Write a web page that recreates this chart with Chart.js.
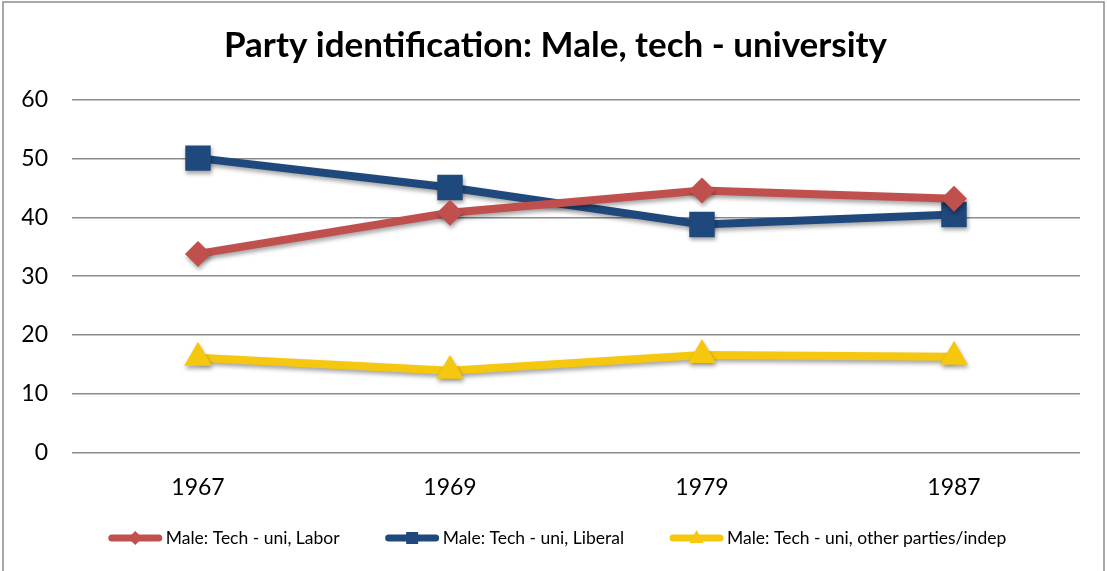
<!DOCTYPE html>
<html>
<head>
<meta charset="utf-8">
<script src="https://cdn.jsdelivr.net/npm/chart.js@4.4.1/dist/chart.umd.min.js"></script>
<style>
  html, body { margin: 0; padding: 0; background: #fff; }
  #wrap { width: 1107px; height: 571px; position: relative; }
</style>
</head>
<body>
<div id="wrap"><canvas id="c" width="1107" height="571"></canvas></div>
<script>
const categories = ['1967', '1969', '1979', '1987'];
const laborValues = [33.8, 40.8, 44.6, 43.2];
const liberalValues = [50.1, 45.1, 38.8, 40.5];
const otherValues = [16.1, 13.9, 16.6, 16.3];
const seriesNames = ['Male: Tech - uni, Labor', 'Male: Tech - uni, Liberal', 'Male: Tech - uni, other parties/indep'];
const titleText = 'Party identification: Male, tech - university';

const FONT = 'Lato, "Open Sans", "DejaVu Sans", sans-serif';
const RED = '#C0504D', BLUE = '#1F497D', YELLOW = '#F6C70F';

const frame = {
  id: 'frame',
  beforeDraw(chart) {
    const ctx = chart.ctx;
    ctx.save();
    ctx.fillStyle = '#fff';
    ctx.fillRect(0, 0, chart.width, chart.height);
    ctx.strokeStyle = '#8c8c8c';
    ctx.lineWidth = 1.5;
    ctx.strokeRect(3, 2, chart.width - 6, chart.height + 10);
    ctx.restore();
  },
  afterDraw(chart) {
    const ctx = chart.ctx;
    ctx.save();
    ctx.font = 'bold 35px ' + FONT;
    ctx.fillStyle = '#000';
    ctx.textAlign = 'center';
    ctx.textBaseline = 'middle';
    ctx.fillText(titleText, chart.width / 2 + 2, 46);
    ctx.restore();
  }
};

const shadow = {
  id: 'shadow',
  beforeDatasetDraw(chart) {
    const ctx = chart.ctx;
    ctx.save();
    ctx.shadowColor = 'rgba(0,0,0,0.35)';
    ctx.shadowBlur = 4;
    ctx.shadowOffsetX = 1;
    ctx.shadowOffsetY = 3;
  },
  afterDatasetDraw(chart) {
    chart.ctx.restore();
  }
};

// Excel-style legend: line sample with marker, then text
const customLegend = {
  id: 'customLegend',
  afterDraw(chart) {
    const ctx = chart.ctx;
    const lineLen = 53, gapText = 4, gapItem = 46;
    const cy = 538;
    ctx.save();
    ctx.font = '17.5px ' + FONT;
    ctx.textBaseline = 'middle';
    const items = chart.data.datasets.map(ds => ({ ds, w: ctx.measureText(ds.label).width }));
    const total = items.reduce((s, it) => s + lineLen + gapText + it.w, 0) + gapItem * (items.length - 1);
    let x = (chart.width - total) / 2 + 4;
    items.forEach(it => {
      const ds = it.ds;
      ctx.fillStyle = ds.borderColor;
      ctx.strokeStyle = ds.borderColor;
      ctx.lineWidth = 7;
      ctx.lineCap = 'round';
      ctx.beginPath();
      ctx.moveTo(x + 3, cy); ctx.lineTo(x + lineLen - 3, cy);
      ctx.stroke();
      const cx = x + lineLen / 2;
      ctx.beginPath();
      if (ds.pointStyle === 'rectRot') {
        ctx.moveTo(cx - 7, cy); ctx.lineTo(cx, cy - 7); ctx.lineTo(cx + 7, cy); ctx.lineTo(cx, cy + 7);
      } else if (ds.pointStyle === 'rect') {
        ctx.rect(cx - 6, cy - 6, 12, 12);
      } else {
        ctx.moveTo(cx, cy - 8); ctx.lineTo(cx + 7, cy + 5); ctx.lineTo(cx - 7, cy + 5);
      }
      ctx.closePath();
      ctx.fill();
      ctx.fillStyle = '#000';
      ctx.fillText(ds.label, x + lineLen + gapText, cy);
      x += lineLen + gapText + it.w + gapItem;
    });
    ctx.restore();
  }
};

new Chart(document.getElementById('c'), {
  type: 'line',
  data: {
    labels: categories,
    datasets: [
      { label: seriesNames[0], data: laborValues, borderColor: RED, backgroundColor: RED,
        borderWidth: 8, pointStyle: 'rectRot', pointRadius: 13, pointHoverRadius: 13,
        pointBorderWidth: 0, pointBackgroundColor: RED },
      { label: seriesNames[1], data: liberalValues, borderColor: BLUE, backgroundColor: BLUE,
        borderWidth: 8, pointStyle: 'rect', pointRadius: 18, pointHoverRadius: 18,
        pointBorderWidth: 0, pointBackgroundColor: BLUE },
      { label: seriesNames[2], data: otherValues, borderColor: YELLOW, backgroundColor: YELLOW,
        borderWidth: 8, pointStyle: 'triangle', pointRadius: 16, pointHoverRadius: 16,
        pointBorderWidth: 0, pointBackgroundColor: YELLOW }
    ]
  },
  options: {
    responsive: false,
    animation: false,
    events: [],
    layout: { padding: { top: 100, right: 27, bottom: 49, left: 0 } },
    plugins: {
      title: { display: false },
      legend: { display: false },
      tooltip: { enabled: false }
    },
    scales: {
      x: {
        offset: true,
        grid: { display: false, drawTicks: false },
        border: { display: false },
        ticks: { color: '#000', font: { family: FONT, size: 23 }, padding: 21 }
      },
      y: {
        min: 0, max: 60,
        afterFit(axis) { axis.width = 72; },
        grid: { color: '#8c8c8c', lineWidth: 1.5, drawTicks: false },
        border: { display: false },
        ticks: { stepSize: 10, color: '#000', font: { family: FONT, size: 23 }, padding: 24 }
      }
    }
  },
  plugins: [frame, shadow, customLegend]
});
</script>
</body>
</html>
